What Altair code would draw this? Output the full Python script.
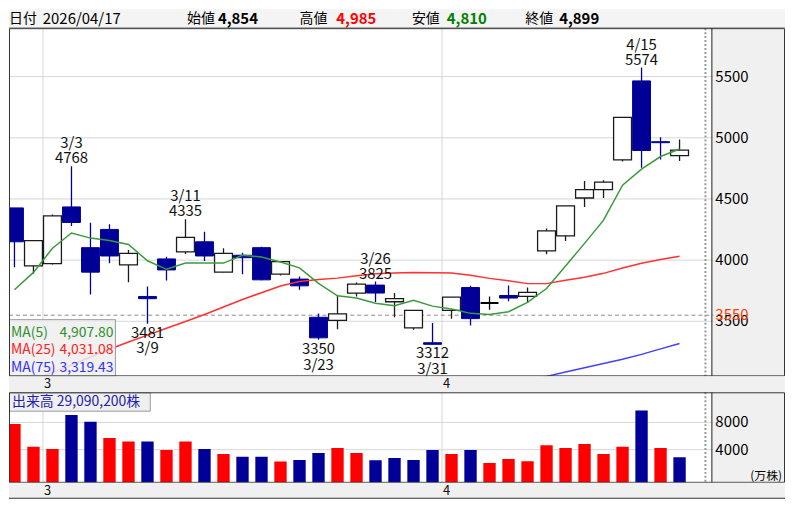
import altair as alt
import pandas as pd
import numpy as np

# ---------------- data ----------------
dates = ["2026-02-26", "2026-02-27", "2026-03-02", "2026-03-03", "2026-03-04", "2026-03-05",
         "2026-03-06", "2026-03-09", "2026-03-10", "2026-03-11", "2026-03-12", "2026-03-13",
         "2026-03-16", "2026-03-17", "2026-03-18", "2026-03-19", "2026-03-23", "2026-03-24",
         "2026-03-25", "2026-03-26", "2026-03-27", "2026-03-30", "2026-03-31", "2026-04-01",
         "2026-04-02", "2026-04-03", "2026-04-06", "2026-04-07", "2026-04-08", "2026-04-09",
         "2026-04-10", "2026-04-13", "2026-04-14", "2026-04-15", "2026-04-16", "2026-04-17"]
opens = [4427, 3953, 3972, 4435, 4102, 4251, 3961, 3703, 4010, 4067, 4150, 3902,
         4040, 4102, 3885, 3845, 3533, 3508, 3731, 3796, 3660, 3446, 3325, 3589,
         3776, 3650, 3711, 3703, 4075, 4199, 4508, 4576, 4820, 5465, 4968, 4854]
highs = [4427, 4159, 4373, 4768, 4305, 4294, 4083, 3785, 4028, 4335, 4232, 4097,
         4061, 4110, 3992, 3866, 3563, 3710, 3817, 3825, 3731, 3589, 3487, 3698,
         3790, 3703, 3793, 3776, 4259, 4443, 4646, 4652, 5167, 5574, 5004, 4985]
lows = [3942, 3888, 3965, 4278, 3720, 3975, 3820, 3481, 3833, 4050, 3993, 3900,
        3885, 3835, 3875, 3758, 3350, 3435, 3703, 3658, 3533, 3432, 3312, 3520,
        3465, 3595, 3663, 3650, 4048, 4156, 4435, 4508, 4806, 4755, 4823, 4810]
closes = [4150, 4159, 4362, 4308, 3902, 4034, 4056, 3685, 3920, 4186, 4034, 4056,
          4020, 3839, 3988, 3790, 3365, 3560, 3804, 3731, 3685, 3589, 3312, 3698,
          3522, 3650, 3690, 3736, 4240, 4443, 4576, 4638, 5167, 4896, 4960, 4899]
volumes = [7760, 4440, 4100, 9080, 8100, 5710, 5220, 5220, 3950, 5220, 4100, 3370,
           2980, 2980, 2250, 2490, 3510, 4250, 3510, 2440, 2780, 2490, 3950, 3370,
           3950, 2050, 2640, 2290, 4640, 4250, 4830, 3370, 4440, 9760, 4250, 2909]
ma5 = [3758, 3900, 4097, 4222, 4180, 4160, 4128, 3995, 3925, 3976, 3976, 3976,
       4040, 4025, 3985, 3937, 3810, 3708, 3690, 3648, 3628, 3672, 3624, 3600,
       3565, 3555, 3578, 3655, 3768, 3952, 4137, 4327, 4613, 4744, 4847, 4908]
ma25 = [2960, 3018, 3081, 3144, 3208, 3272, 3331, 3387, 3443, 3498, 3556, 3617,
        3678, 3734, 3788, 3825, 3841, 3853, 3872, 3888, 3894, 3898, 3896, 3894,
        3876, 3851, 3831, 3808, 3808, 3835, 3860, 3892, 3935, 3975, 4005, 4031]
ma75 = [None] * 26 + [2985, 3018, 3050, 3085, 3120, 3155, 3190, 3230, 3275, 3319]

price_ticks = [3500, 4000, 4500, 5000, 5500]
vol_ticks = [4000, 8000]
ref_price = [3550]
high_marks = ["2026-03-03", "2026-03-11", "2026-03-26", "2026-04-15"]
low_marks = ["2026-03-09", "2026-03-23", "2026-03-31"]
header_labels = ["日付", "始値", "高値", "安値", "終値"]
header_values = ["2026/04/17", "4,854", "4,985", "4,810", "4,899"]
ma_names = ["MA(5)", "MA(25)", "MA(75)"]
ma_last = ["4,907.80", "4,031.08", "3,319.43"]
volume_title = ["出来高  29,090,200株"]
volume_unit = ["(万株)"]

# ---------------- tables ----------------
df = pd.DataFrame({"date": dates, "open": opens, "high": highs, "low": lows,
                   "close": closes, "volume": volumes, "ma5": ma5, "ma25": ma25,
                   "ma75": ma75})
df["idx"] = np.arange(1, len(df) + 1)
dt = pd.to_datetime(df["date"])
df["md"] = dt.dt.month.astype(str) + "/" + dt.dt.day.astype(str)
df["dir"] = np.where(df.close > df.open, "up", np.where(df.close < df.open, "down", "flat"))
prev = df.close.shift(1)
df["vdir"] = np.where(prev.isna() | (df.close >= prev), "up", "down")
mstart = (dt.dt.month != dt.dt.month.shift(1)).to_numpy()
mstart[0] = False
months = pd.DataFrame({"b": df.idx[mstart].to_numpy() - 0.5,
                       "m": dt.dt.month[mstart].astype(str).to_numpy()})
one = pd.DataFrame({"k": [0]})

FONT = "Noto Sans CJK JP"
W, RX = 706, 780
HH, HP, HS, HV = 19, 350, 16, 91
NAVY = "#000099"
GRID = "#d6d6d6"
PANEL = "#f0f0f0"

xs = alt.Scale(domain=[0.712, 37.675], nice=False, zero=False)
ps = alt.Scale(domain=[3050, 5896], nice=False, zero=False)
vs = alt.Scale(domain=[-862, 12424], nice=False, zero=False)


def xq(f):
    return alt.X(f, type="quantitative", scale=xs, axis=None)


def yp(f):
    return alt.Y(f, type="quantitative", scale=ps, axis=None)


def yv(f):
    return alt.Y(f, type="quantitative", scale=vs, axis=None)


def box(x1, x2, y1, y2, **kw):
    return alt.Chart(one).mark_rect(**kw).encode(
        x=alt.value(x1), x2=alt.value(x2), y=alt.value(y1), y2=alt.value(y2))


def label(t, x, y, **kw):
    return alt.Chart(pd.DataFrame({"t": [t]})).mark_text(font=FONT, **kw).encode(
        x=alt.value(x), y=alt.value(y), text="t:N")


# ---------------- header ----------------
hdr_layers = [box(0, RX, 0, HH, fill="#f4f4f4"),
              alt.Chart(one).mark_rule(color="#a0a0a0").encode(
                  x=alt.value(0), x2=alt.value(RX), y=alt.value(HH - 0.5))]
lab_x = [0, 179, 292, 405, 519]
val_x = [34, 210, 329, 440, 553]
val_col = ["#000000", "#000000", "#ff0000", "#008000", "#000000"]
for i in range(5):
    hdr_layers.append(label(header_labels[i], lab_x[i], 9.5, align="left",
                            baseline="middle", fontSize=14, color="#000"))
    hdr_layers.append(label(header_values[i], val_x[i], 9.5, align="left",
                            baseline="middle", fontSize=15,
                            fontWeight="normal" if i == 0 else "bold",
                            color=val_col[i]))
header = alt.layer(*hdr_layers).properties(width=W, height=HH)

# ---------------- price panel ----------------
base = alt.Chart(df).transform_calculate(xl="datum.idx - 0.471", xr="datum.idx + 0.471")
pt = pd.DataFrame({"p": price_ticks})
rp = pd.DataFrame({"p": ref_price})

price_layers = [
    box(W, RX, 0, HP, fill=PANEL),
    alt.Chart(pt).mark_rule(color=GRID).encode(y=yp("p"), x=alt.value(0), x2=alt.value(708)),
    alt.Chart(months).mark_rule(color=GRID).encode(x=xq("b"), y=alt.value(0), y2=alt.value(HP)),
    alt.Chart(rp).mark_rule(color="#8a8a8a", strokeDash=[4, 3]).encode(
        y=yp("p"), x=alt.value(0), x2=alt.value(708)),
    alt.Chart(one).mark_rule(color="#9a9a9a", strokeDash=[2, 2], strokeWidth=2).encode(
        x=alt.value(700), y=alt.value(0), y2=alt.value(HP)),
]
for d, col in [("up", "#1a1a1a"), ("down", NAVY), ("flat", "#000000")]:
    price_layers.append(
        base.transform_filter(f"datum.dir == '{d}'").mark_rule(
            color=col, strokeWidth=1.3, clip=True).encode(x=xq("idx"), y=yp("low"), y2="high:Q"))
price_layers += [
    base.transform_filter("datum.dir == 'up'").mark_rect(
        fill="#ffffff", stroke="#1a1a1a", strokeWidth=1.3, clip=True).encode(
        x=xq("xl"), x2="xr:Q", y=yp("open"), y2="close:Q"),
    base.transform_filter("datum.dir == 'down'").mark_rect(
        fill=NAVY, stroke=NAVY, strokeWidth=1, clip=True).encode(
        x=xq("xl"), x2="xr:Q", y=yp("open"), y2="close:Q"),
    base.transform_filter("datum.dir == 'flat'").mark_rect(
        fillOpacity=0, stroke="#000000", strokeWidth=2, clip=True).encode(
        x=xq("xl"), x2="xr:Q", y=yp("open"), y2="close:Q"),
    alt.Chart(df).mark_line(color="#ff3030", strokeWidth=1.5, clip=True).encode(x=xq("idx"), y=yp("ma25")),
    alt.Chart(df).mark_line(color="#4040ff", strokeWidth=1.5, clip=True).encode(x=xq("idx"), y=yp("ma75")),
    alt.Chart(df).mark_line(color="#3c9a3c", strokeWidth=1.5, clip=True).encode(x=xq("idx"), y=yp("ma5")),
]
hi = alt.Chart(df).transform_filter(alt.FieldOneOfPredicate(field="date", oneOf=high_marks))
lo = alt.Chart(df).transform_filter(alt.FieldOneOfPredicate(field="date", oneOf=low_marks))
tk = dict(font=FONT, fontSize=15, color="#111", baseline="middle", align="center")
price_layers += [
    hi.mark_text(dy=-8, **tk).encode(x=xq("idx"), y=yp("high"), text=alt.Text("high:Q", format="d")),
    hi.mark_text(dy=-23, **tk).encode(x=xq("idx"), y=yp("high"), text="md:N"),
    lo.mark_text(dy=9, **tk).encode(x=xq("idx"), y=yp("low"), text=alt.Text("low:Q", format="d")),
    lo.mark_text(dy=25, **tk).encode(x=xq("idx"), y=yp("low"), text="md:N"),
    box(0.5, 107, 293, HP, fill="#efefef", fillOpacity=0.85, stroke="#9a9a9a"),
]
ma_cols = ["#2f8f2f", "#ff2020", "#3030ff"]
for i in range(3):
    price_layers.append(label(ma_names[i], 2, 306 + 18 * i, align="left", baseline="middle",
                              fontSize=14, color=ma_cols[i]))
    price_layers.append(label(ma_last[i], 105, 306 + 18 * i, align="right", baseline="middle",
                              fontSize=14, color=ma_cols[i]))
price_layers += [
    alt.Chart(pt).mark_text(font=FONT, fontSize=15, align="left", baseline="middle", color="#000").encode(
        y=yp("p"), x=alt.value(710), text=alt.Text("p:Q", format="d")),
    alt.Chart(rp).mark_text(font=FONT, fontSize=15, align="left", baseline="middle", color="#ff3c00").encode(
        y=yp("p"), x=alt.value(710), text=alt.Text("p:Q", format="d")),
    box(0.5, RX - 0.5, 0.5, HP - 0.5, fillOpacity=0, stroke="#333", strokeWidth=1),
    alt.Chart(one).mark_rule(color="#222").encode(x=alt.value(W + 0.5), y=alt.value(0), y2=alt.value(HP)),
]
price = alt.layer(*price_layers).properties(width=W, height=HP)


# ---------------- strips ----------------
def strip(h):
    return alt.layer(
        box(0, RX, 0, h, fill=PANEL),
        alt.Chart(months).mark_text(font=FONT, fontSize=13, align="left", baseline="middle",
                                    dx=1, color="#111").encode(x=xq("b"), y=alt.value(h / 2), text="m:N"),
    ).properties(width=W, height=h)


strip1 = strip(HS)
strip2 = alt.layer(
    strip(HS),
    alt.Chart(one).mark_rule(color="#333").encode(x=alt.value(0), x2=alt.value(RX), y=alt.value(HS - 0.5)),
).properties(width=W, height=HS)

# ---------------- volume panel ----------------
vt = pd.DataFrame({"v": vol_ticks})
vbase = alt.Chart(df).transform_calculate(xl="datum.idx - 0.325", xr="datum.idx + 0.325")
vol_layers = [
    box(W, RX, 0, HV, fill=PANEL),
    alt.Chart(vt).mark_rule(color=GRID).encode(y=yv("v"), x=alt.value(0), x2=alt.value(708)),
    alt.Chart(months).mark_rule(color=GRID).encode(x=xq("b"), y=alt.value(0), y2=alt.value(HV)),
    alt.Chart(one).mark_rule(color="#9a9a9a", strokeDash=[2, 2], strokeWidth=2).encode(
        x=alt.value(700), y=alt.value(0), y2=alt.value(HV)),
    vbase.transform_filter("datum.vdir == 'up'").mark_rect(fill="#ff0000", clip=True).encode(
        x=xq("xl"), x2="xr:Q", y=yv("volume"), y2=alt.value(HV)),
    vbase.transform_filter("datum.vdir == 'down'").mark_rect(fill=NAVY, clip=True).encode(
        x=xq("xl"), x2="xr:Q", y=yv("volume"), y2=alt.value(HV)),
    box(0.5, 142, 0.5, 19, fill="#efefef", stroke="#9a9a9a"),
    label(volume_title[0], 3, 10, align="left", baseline="middle", fontSize=14, color="#2020b0"),
    alt.Chart(vt).mark_text(font=FONT, fontSize=15, align="left", baseline="middle", color="#000").encode(
        y=yv("v"), x=alt.value(710), text=alt.Text("v:Q", format="d")),
    label(volume_unit[0], 745, 84, align="left", baseline="middle", fontSize=12, color="#000"),
    box(0.5, RX - 0.5, 0.5, HV - 0.5, fillOpacity=0, stroke="#333", strokeWidth=1),
    alt.Chart(one).mark_rule(color="#222").encode(x=alt.value(W + 0.5), y=alt.value(0), y2=alt.value(HV)),
]
volume = alt.layer(*vol_layers).properties(width=W, height=HV)

chart = alt.vconcat(header, price, strip1, volume, strip2, spacing=0, bounds="flush").properties(
    padding={"left": 0, "top": 0, "right": 0, "bottom": 0}
).configure_view(stroke=None)

chart.save("out.html", embed_options={"renderer": "svg", "actions": False})
